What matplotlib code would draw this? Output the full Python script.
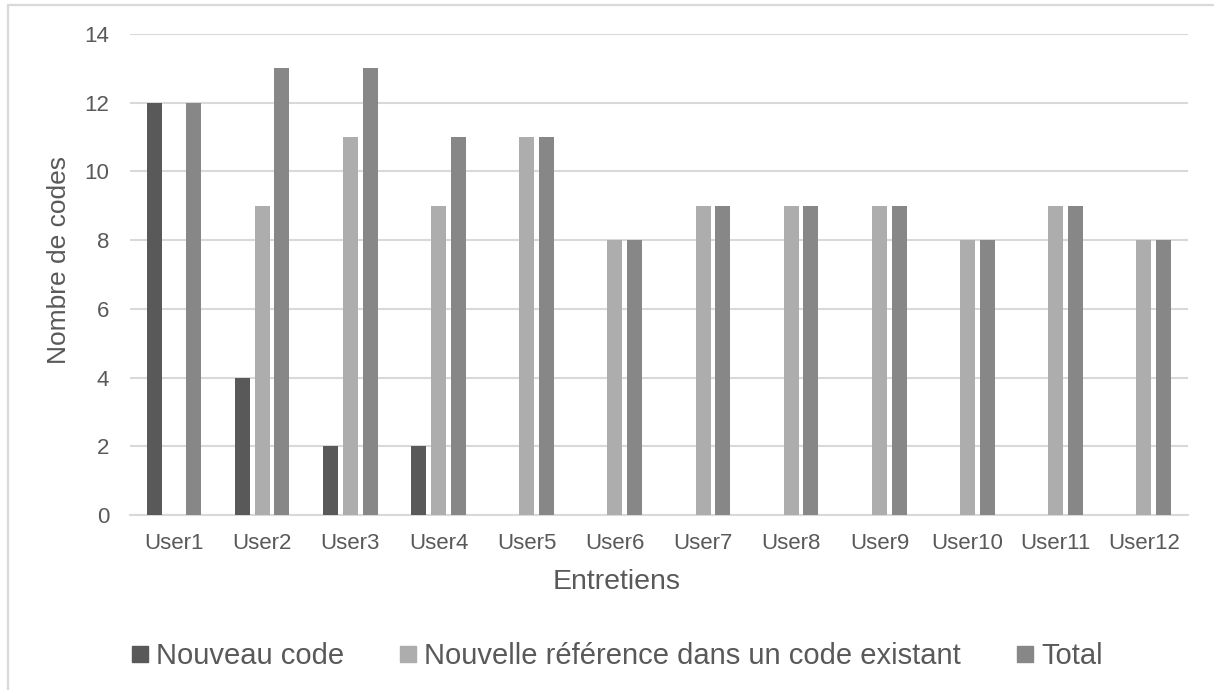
import matplotlib
matplotlib.use("Agg")
import matplotlib.pyplot as plt
from matplotlib.lines import Line2D
from matplotlib.patches import Rectangle
import numpy as np

plt.rcParams['font.family'] = ['Liberation Sans', 'DejaVu Sans']

categories = ["User1", "User2", "User3", "User4", "User5", "User6",
              "User7", "User8", "User9", "User10", "User11", "User12"]
nouveau_code = [12, 4, 2, 2, 0, 0, 0, 0, 0, 0, 0, 0]
nouvelle_ref = [0, 9, 11, 9, 11, 8, 9, 9, 9, 8, 9, 8]
total = [12, 13, 13, 11, 11, 8, 9, 9, 9, 8, 9, 8]
series_names = ["Nouveau code", "Nouvelle référence dans un code existant", "Total"]
colors = ["#595959", "#ADADAD", "#878787"]
y_ticks = [0, 2, 4, 6, 8, 10, 12, 14]

W, H = 1214, 690
fig = plt.figure(figsize=(W / 100, H / 100), dpi=100)
fig.patch.set_facecolor("white")

# chart area border (light gray)
fig.patches.append(Rectangle((8 / W, -0.2), 1.2, 1 - 5 / H + 0.2,
                             transform=fig.transFigure, fill=False,
                             edgecolor="#D9D9D9", linewidth=1.6, zorder=0))

ax = fig.add_axes([130 / W, 1 - 515 / H, (1188 - 130) / W, (515 - 34) / H])
x = np.arange(len(categories))
width = 0.17
step = 0.223
for i, (vals, c) in enumerate(zip([nouveau_code, nouvelle_ref, total], colors)):
    ax.bar(x + (i - 1) * step, vals, width=width, color=c, zorder=3)

ax.set_xlim(-0.5, len(categories) - 0.5)
ax.set_ylim(0, 14)
ax.set_yticks(y_ticks)
ax.set_xticks(x)
ax.set_xticklabels(categories)
ax.grid(axis="y", color="#D9D9D9", linewidth=1.5, zorder=0)
ax.set_axisbelow(True)
for s in ["top", "right", "left"]:
    ax.spines[s].set_visible(False)
ax.spines["bottom"].set_color("#D9D9D9")
ax.spines["bottom"].set_linewidth(1.5)
ax.tick_params(axis="both", length=0, colors="#595959", labelsize=16)
ax.tick_params(axis="y", pad=15)
ax.tick_params(axis="x", pad=13)

fig.text(617 / W, 1 - 582 / H, "Entretiens", ha="center", va="center",
         fontsize=20.5, color="#595959")
fig.text(59 / W, 1 - 260 / H, "Nombre de codes", ha="center", va="center",
         rotation=90, fontsize=19, color="#595959")

handles = [Line2D([], [], marker="s", linestyle="none", markersize=11.5,
                  markerfacecolor=c, markeredgecolor=c) for c in colors]
fig.legend(handles, series_names, loc="center", ncol=3,
           bbox_to_anchor=(617 / W, 1 - 656 / H), frameon=False,
           fontsize=21, labelcolor="#595959", handlelength=0.6,
           handletextpad=0.25, columnspacing=1.9, borderaxespad=0)

fig.savefig("out.png", dpi=100, facecolor="white")
